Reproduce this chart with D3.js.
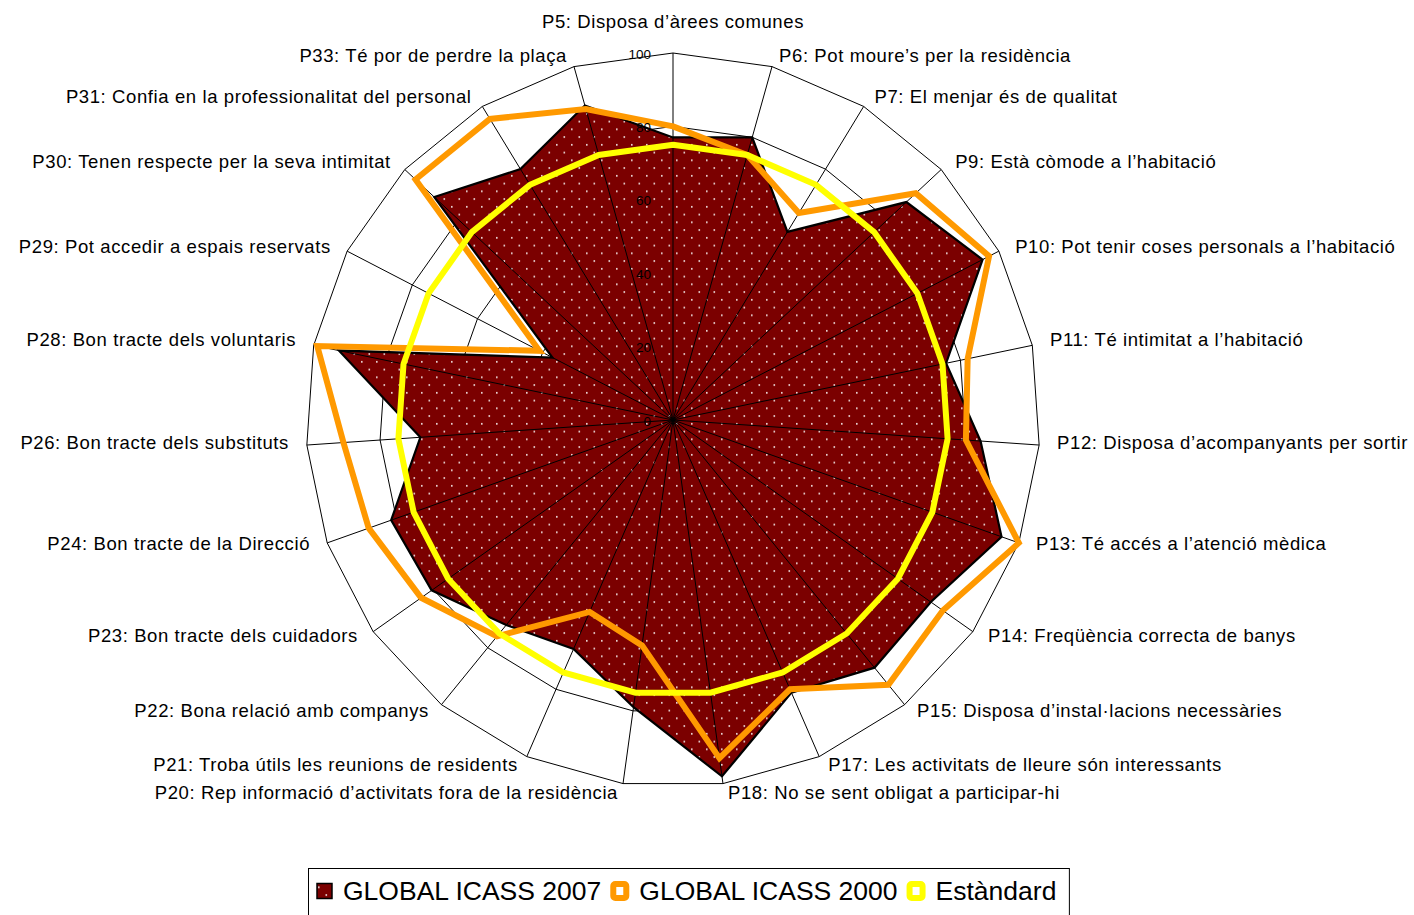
<!DOCTYPE html>
<html>
<head>
<meta charset="utf-8">
<script src="https://cdn.jsdelivr.net/npm/d3@7"></script>
<style>
  body { margin: 0; background: #fff; }
  svg { display: block; font-family: "Liberation Sans", Arial, sans-serif; }
</style>
</head>
<body>
<svg id="chart"></svg>
<script>
// categories (clockwise from top)
const categories = [
  "P5: Disposa d’àrees comunes",
  "P6: Pot moure’s per la residència",
  "P7: El menjar és de qualitat",
  "P9: Està còmode a l’habitació",
  "P10: Pot tenir coses personals a l’habitació",
  "P11: Té intimitat a l’habitació",
  "P12: Disposa d’acompanyants per sortir",
  "P13: Té accés a l’atenció mèdica",
  "P14: Freqüència correcta de banys",
  "P15: Disposa d’instal·lacions necessàries",
  "P17: Les activitats de lleure són interessants",
  "P18: No se sent obligat a participar-hi",
  "P20: Rep informació d’activitats fora de la residència",
  "P21: Troba útils les reunions de residents",
  "P22: Bona relació amb companys",
  "P23: Bon tracte dels cuidadors",
  "P24: Bon tracte de la Direcció",
  "P26: Bon tracte dels substituts",
  "P28: Bon tracte dels voluntaris",
  "P29: Pot accedir a espais reservats",
  "P30: Tenen respecte per la seva intimitat",
  "P31: Confia en la professionalitat del personal",
  "P33: Té por de perdre la plaça"
];

const icass2007 = [77, 80, 60, 87, 95, 76, 84, 95, 86, 87, 81, 98, 79, 68, 72, 80.5, 81.5, 69, 93, 37, 89, 80, 89];
const icass2000 = [80, 75, 66, 90.5, 97, 82, 80, 100, 90, 93, 80, 93, 62, 57, 76, 84, 88, 90, 99, 41, 96, 96, 88];
const estandard = [75, 75, 75, 75, 75, 75, 75, 75, 75, 75, 75, 75, 75, 75, 75, 75, 75, 75, 75, 75, 75, 75, 75];

const tickValues = [0, 20, 40, 60, 80, 100];
const seriesNames = ["GLOBAL ICASS 2007", "GLOBAL ICASS 2000", "Estàndard"];

const width = 1414, height = 915;
const cx = 673, cy = 420, radius = 367;

const svg = d3.select("#chart").attr("width", width).attr("height", height);

// dotted fill for the 2007 area
const defs = svg.append("defs");
const pat = defs.append("pattern")
  .attr("id", "dots")
  .attr("patternUnits", "userSpaceOnUse")
  .attr("width", 15)
  .attr("height", 15.5);
pat.append("rect").attr("width", 15).attr("height", 15.5).attr("fill", "#7b0000");
pat.append("rect").attr("x", 3).attr("y", 3).attr("width", 1.6).attr("height", 1.6).attr("fill", "#f4eaea");
pat.append("rect").attr("x", 10.5).attr("y", 10.75).attr("width", 1.6).attr("height", 1.6).attr("fill", "#f4eaea");

const r = d3.scaleLinear().domain([0, 100]).range([0, radius]);
const angle = d3.scaleLinear().domain([0, categories.length]).range([0, 2 * Math.PI]);

const g = svg.append("g").attr("transform", `translate(${cx},${cy})`);

const radial = d3.lineRadial()
  .angle((d, i) => angle(i))
  .radius((d) => r(d))
  .curve(d3.curveLinearClosed);

// rings
g.selectAll(".ring")
  .data(tickValues.slice(1))
  .enter()
  .append("path")
  .attr("class", "ring")
  .attr("d", (t) => radial(categories.map(() => t)))
  .attr("fill", "none")
  .attr("stroke", "#000")
  .attr("stroke-width", 1);

// 2007 filled area
g.append("path")
  .attr("d", radial(icass2007))
  .attr("fill", "url(#dots)")
  .attr("stroke", "#000")
  .attr("stroke-width", 2.2)
  .attr("stroke-linejoin", "miter");

// spokes
g.selectAll(".spoke")
  .data(categories)
  .enter()
  .append("line")
  .attr("class", "spoke")
  .attr("x1", 0)
  .attr("y1", 0)
  .attr("x2", (d, i) => r(100) * Math.sin(angle(i)))
  .attr("y2", (d, i) => -r(100) * Math.cos(angle(i)))
  .attr("stroke", "#000")
  .attr("stroke-width", 1);

// 2000 and standard lines
g.append("path")
  .attr("d", radial(icass2000))
  .attr("fill", "none")
  .attr("stroke", "#ff9900")
  .attr("stroke-width", 6)
  .attr("stroke-linejoin", "miter");

g.append("path")
  .attr("d", radial(estandard))
  .attr("fill", "none")
  .attr("stroke", "#ffff00")
  .attr("stroke-width", 6)
  .attr("stroke-linejoin", "miter");

// value labels on the top axis
g.selectAll(".tick")
  .data(tickValues)
  .enter()
  .append("text")
  .attr("class", "tick")
  .attr("x", -22)
  .attr("y", (d) => -r(d) + 1)
  .attr("text-anchor", "end")
  .attr("dominant-baseline", "central")
  .attr("font-size", 13.5)
  .attr("fill", "#000")
  .text((d) => d);

// category labels
g.selectAll(".cat")
  .data(categories)
  .enter()
  .append("text")
  .attr("class", "cat")
  .attr("x", (d, i) => {
    const s = Math.sin(angle(i));
    const side = Math.abs(s) < 0.05 ? 0 : Math.sign(s);
    return (r(100) + 15) * s + 3 * side;
  })
  .attr("y", (d, i) => {
    const s = Math.sin(angle(i));
    const c = Math.cos(angle(i));
    if (Math.abs(s) < 0.05) return -(r(100) + 12) - 20;
    return -(r(100) + 12) * c + (c > 0.4 ? 0.5 : -3);
  })
  .attr("text-anchor", (d, i) => {
    const s = Math.sin(angle(i));
    return Math.abs(s) < 0.05 ? "middle" : s > 0 ? "start" : "end";
  })
  .attr("dominant-baseline", "central")
  .attr("font-size", 18.5)
  .attr("letter-spacing", 0.6)
  .attr("fill", "#000")
  .text((d) => d);

// legend
const legend = svg.append("g");
const legendBox = legend.append("rect")
  .attr("fill", "#fff")
  .attr("stroke", "#000")
  .attr("stroke-width", 1);

const colors = ["#7b0000", "#ff9900", "#ffff00"];
let lx = 317;
const ly = 891;
seriesNames.forEach((name, i) => {
  if (i === 0) {
    legend.append("rect")
      .attr("x", lx).attr("y", ly - 7.5)
      .attr("width", 15).attr("height", 15)
      .attr("fill", "url(#dots)")
      .attr("stroke", "#000").attr("stroke-width", 1.5);
    lx += 26;
  } else {
    legend.append("rect")
      .attr("x", lx + 3).attr("y", ly - 7)
      .attr("width", 13).attr("height", 14)
      .attr("rx", 2)
      .attr("fill", "#fff")
      .attr("stroke", colors[i]).attr("stroke-width", 6);
    lx += 29;
  }
  const t = legend.append("text")
    .attr("x", lx)
    .attr("y", ly)
    .attr("dominant-baseline", "central")
    .attr("font-size", 26.5)
    .attr("fill", "#000")
    .text(name);
  lx += t.node().getComputedTextLength() + 9;
});

legendBox
  .attr("x", 308.5)
  .attr("y", 868.5)
  .attr("width", lx - 308.5 + 4)
  .attr("height", 50);
</script>
</body>
</html>
